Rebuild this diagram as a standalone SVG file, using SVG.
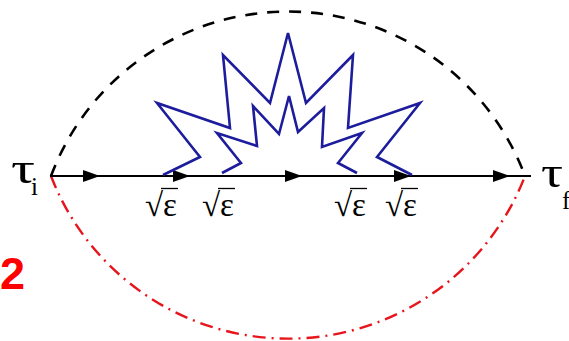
<svg xmlns="http://www.w3.org/2000/svg" xmlns:xlink="http://www.w3.org/1999/xlink" width="569" height="341" viewBox="0 0 569 341">
<style>
.bg{fill:#ffffff}
.dash{fill:none;stroke:#000;stroke-width:2.6;stroke-dasharray:12 10}
.dashdot{fill:none;stroke:#e8141c;stroke-width:2.4;stroke-dasharray:13 6 2 6}
.main{fill:none;stroke:#000;stroke-width:1.8}
.star{fill:none;stroke:#1c1c9c;stroke-width:2.6;stroke-linejoin:miter}
.lbl{font-family:"Liberation Serif","DejaVu Serif",serif;fill:#000}
.eps{font-family:"Liberation Serif","DejaVu Serif",serif;fill:#000;font-size:33px}
.bar{stroke:#000;stroke-width:1.3}
.red2{font-family:"Liberation Sans",Arial,sans-serif;font-weight:bold;fill:#ff0000}
</style>
<defs>
<path id="ah" d="M0,0 L-17,-6 L-17,6 Z" fill="#000"/>
</defs>
<rect class="bg" x="0" y="0" width="569" height="341"/>
<g id="connectors">
<path id="upper-arc" class="dash" d="M51,176 A253,253 0 0 1 525,176"/>
<path id="lower-arc" class="dashdot" d="M51,176 A254,254 0 0 0 525,176"/>
<line id="time-line" class="main" x1="50" y1="176" x2="531" y2="176"/>
<use xlink:href="#ah" href="#ah" x="100" y="176"/>
<use xlink:href="#ah" href="#ah" x="190" y="176"/>
<use xlink:href="#ah" href="#ah" x="302" y="176"/>
<use xlink:href="#ah" href="#ah" x="411" y="176"/>
<use xlink:href="#ah" href="#ah" x="510" y="176"/>
</g>
<g id="star">
<polyline class="star" points="163,175 200,157 157,103 230,128 223,55 270,103 288,33 306,103 353,55 348,128 420,103 377,157 412,175"/>
<polyline class="star" points="222,173 241,163 217,133 257,146 253,106 279,134 289,96 298,132 324,108 322,147 362,133 338,163 357,173"/>
</g>
<g id="tau-i">
<text class="lbl" x="11" y="183" font-size="44" textLength="24" lengthAdjust="spacingAndGlyphs">τ</text>
<text class="lbl" x="31" y="195" font-size="25">i</text>
</g>
<g id="tau-f">
<text class="lbl" x="541" y="187" font-size="44" textLength="22" lengthAdjust="spacingAndGlyphs">τ</text>
<text class="lbl" x="562" y="209" font-size="25">f</text>
</g>
<g id="sqrt-eps-1">
<text class="eps" x="145" y="216">√ε</text>
<line class="bar" x1="161" y1="188.5" x2="178" y2="188.5"/>
</g>
<g id="sqrt-eps-2">
<text class="eps" x="202" y="216">√ε</text>
<line class="bar" x1="218" y1="188.5" x2="235" y2="188.5"/>
</g>
<g id="sqrt-eps-3">
<text class="eps" x="334" y="216">√ε</text>
<line class="bar" x1="350" y1="188.5" x2="367" y2="188.5"/>
</g>
<g id="sqrt-eps-4">
<text class="eps" x="385" y="216">√ε</text>
<line class="bar" x1="401" y1="188.5" x2="418" y2="188.5"/>
</g>
<g id="label-2">
<text class="red2" x="0" y="289" font-size="45">2</text>
</g>
</svg>
